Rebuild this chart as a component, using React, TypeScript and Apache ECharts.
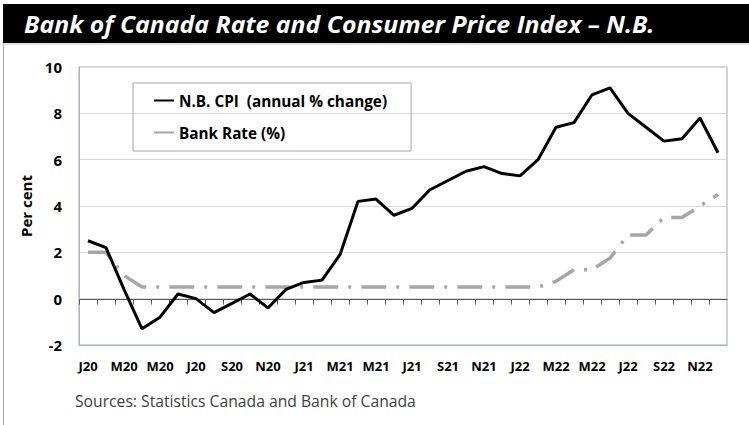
import React, { useEffect, useRef } from "react";
import * as echarts from "echarts";

const months: string[] = [
  "2020-01","2020-02","2020-03","2020-04","2020-05","2020-06","2020-07","2020-08","2020-09","2020-10","2020-11","2020-12",
  "2021-01","2021-02","2021-03","2021-04","2021-05","2021-06","2021-07","2021-08","2021-09","2021-10","2021-11","2021-12",
  "2022-01","2022-02","2022-03","2022-04","2022-05","2022-06","2022-07","2022-08","2022-09","2022-10","2022-11","2022-12",
];
const monthLetters: string[] = ["J","F","M","A","M","J","J","A","S","O","N","D"];

const cpiNB: number[] = [
  2.5, 2.2, 0.4, -1.3, -0.8, 0.2, 0.0, -0.6, -0.2, 0.2, -0.4, 0.4,
  0.7, 0.8, 1.9, 4.2, 4.3, 3.6, 3.9, 4.7, 5.1, 5.5, 5.7, 5.4,
  5.3, 6.0, 7.4, 7.6, 8.8, 9.1, 8.0, 7.4, 6.8, 6.9, 7.8, 6.3,
];
const bankRate: number[] = [
  2.0, 2.0, 1.0, 0.5, 0.5, 0.5, 0.5, 0.5, 0.5, 0.5, 0.5, 0.5,
  0.5, 0.5, 0.5, 0.5, 0.5, 0.5, 0.5, 0.5, 0.5, 0.5, 0.5, 0.5,
  0.5, 0.5, 0.75, 1.25, 1.25, 1.75, 2.75, 2.75, 3.5, 3.5, 4.0, 4.5,
];

const seriesNames = ["N.B. CPI  (annual % change)", "Bank Rate (%)"];
const titleText = "Bank of Canada Rate and Consumer Price Index \u2013 N.B.";
const sourceText = "Sources: Statistics Canada and Bank of Canada";
const yAxisName = "Per cent";

const fmtMonth = (m: string) => {
  const [y, mo] = m.split("-");
  return monthLetters[parseInt(mo, 10) - 1] + y.slice(2);
};

export default function App() {
  const ref = useRef<HTMLDivElement>(null);
  useEffect(() => {
    document.body.style.margin = "0";
    const chart = echarts.init(ref.current!, null, { renderer: "svg" });
    const font = "'Open Sans', 'Noto Sans', sans-serif";
    chart.setOption({
      animation: false,
      backgroundColor: "#ffffff",
      textStyle: { fontFamily: font },
      grid: { left: 79, right: 22, top: 67, bottom: 80, show: true, borderColor: "#a6a6a6", borderWidth: 1 },
      legend: {
        left: 133,
        top: 83,
        orient: "vertical",
        data: seriesNames,
        itemWidth: 20,
        itemHeight: 14,
        itemGap: 17,
        padding: [10, 24, 11, 20],
        borderColor: "#a6a6a6",
        borderWidth: 1,
        selectedMode: false,
        itemStyle: { opacity: 0 },
        textStyle: { fontFamily: font, fontWeight: "bold", fontSize: 15.3, color: "#000" },
      },
      xAxis: {
        type: "category",
        data: months,
        boundaryGap: true,
        position: "bottom",
        axisLine: { onZero: false, lineStyle: { color: "#9bb7dd", width: 1 } },
        axisTick: { show: false },
        axisLabel: {
          interval: 1,
          margin: 14,
          fontFamily: font,
          fontWeight: "bold",
          fontSize: 13,
          color: "#000",
          formatter: (v: string) => fmtMonth(v),
        },
        splitLine: { show: false },
      },
      yAxis: {
        type: "value",
        min: -2,
        max: 10,
        interval: 2,
        name: yAxisName,
        nameLocation: "middle",
        nameGap: 46,
        nameMoveOverlap: false,
        nameTextStyle: { fontFamily: font, fontWeight: "bold", fontSize: 15, color: "#000" },
        axisLine: { show: true, lineStyle: { color: "#9bb7dd", width: 1 } },
        axisTick: { show: false },
        axisLabel: { margin: 17, fontFamily: font, fontWeight: "bold", fontSize: 15, color: "#000" },
        splitLine: { show: true, lineStyle: { color: "#d9d9d9", width: 1 } },
      },
      series: [
        {
          name: "zero-axis",
          type: "custom",
          silent: true,
          z: 1,
          data: months.map((_, i) => [i, 0]),
          encode: { x: 0, y: 1 },
          renderItem: (params: any, api: any) => {
            const c = api.coord([api.value(0), api.value(1)]);
            const w = api.size([1, 0])[0];
            const x = Math.round(c[0] - w / 2) + 0.5;
            const y = Math.round(c[1]) + 0.5;
            const children: any[] = [
              { type: "line", shape: { x1: x, y1: y, x2: x, y2: y + 5 }, style: { stroke: "#595959", lineWidth: 1 } },
              { type: "line", shape: { x1: x, y1: y, x2: x + w, y2: y }, style: { stroke: "#595959", lineWidth: 1 } },
            ];
            return { type: "group", children };
          },
        },
        {
          name: seriesNames[0],
          type: "line",
          data: cpiNB,
          symbol: "none",
          z: 3,
          lineStyle: { color: "#000000", width: 3 },
          itemStyle: { color: "#000000" },
        },
        {
          name: seriesNames[1],
          type: "line",
          data: bankRate,
          symbol: "none",
          z: 2,
          lineStyle: { color: "#a6a6a6", width: 3.5, type: [25, 10, 3, 10], cap: "butt" },
          itemStyle: { color: "#a6a6a6" },
        },
      ],
      graphic: [
        { type: "rect", shape: { x: 3, y: 4, width: 746, height: 39 }, style: { fill: "#000" }, z: 10 },
        { type: "line", shape: { x1: 3.5, y1: 43, x2: 3.5, y2: 425 }, style: { stroke: "#a6a6a6", lineWidth: 1 }, z: 10 },
        { type: "line", shape: { x1: 3, y1: 44, x2: 749, y2: 44 }, style: { stroke: "#c8c8c8", lineWidth: 1 }, z: 10 },
        {
          type: "text",
          x: 24,
          y: 24,
          scaleX: 1.035,
          z: 11,
          style: {
            text: titleText,
            fill: "#ffffff",
            font: "italic bold 24px 'Open Sans', sans-serif",
            verticalAlign: "middle",
            align: "left",
          },
        },
        {
          type: "text",
          x: 75,
          y: 401,
          z: 11,
          style: {
            text: sourceText,
            fill: "#404040",
            font: "15.7px 'Open Sans', sans-serif",
            verticalAlign: "middle",
            align: "left",
          },
        },
      ],
    });
    return () => chart.dispose();
  }, []);
  return <div ref={ref} style={{ position: "fixed", left: 0, top: 0, width: 749, height: 425 }} />;
}
